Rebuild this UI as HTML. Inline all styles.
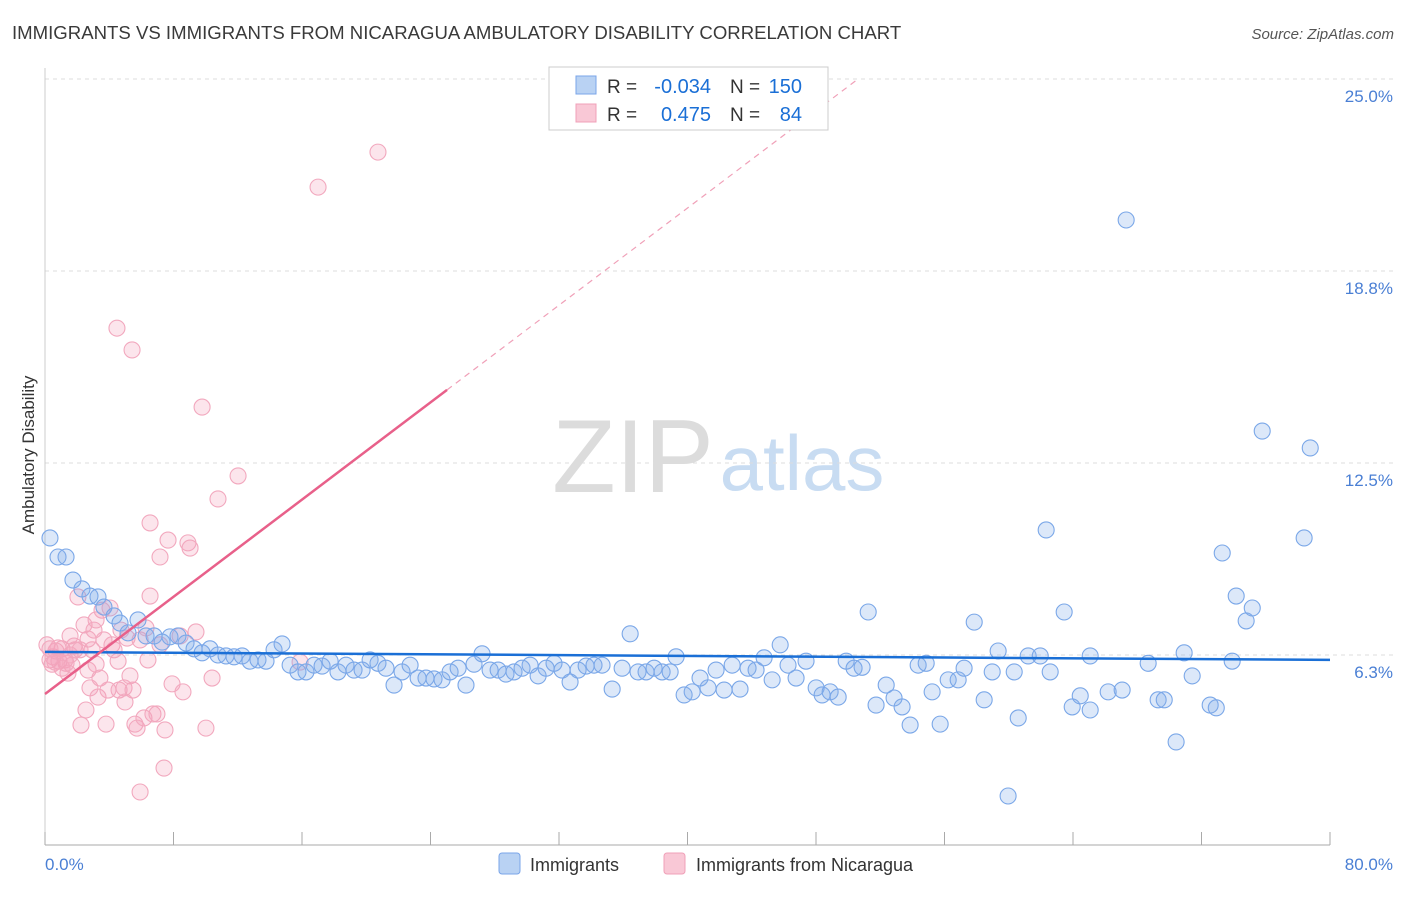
<!DOCTYPE html>
<html><head><meta charset="utf-8"><style>
body{margin:0;background:#fff;font-family:"Liberation Sans",sans-serif;}
svg text{font-family:"Liberation Sans",sans-serif;}
</style></head><body>
<svg width="1406" height="892" id="chart">
<text x="12" y="39" font-size="18.6" fill="#3a3a3a">IMMIGRANTS VS IMMIGRANTS FROM NICARAGUA AMBULATORY DISABILITY CORRELATION CHART</text>
<text x="1394" y="39" font-size="15" fill="#555" text-anchor="end" font-style="italic">Source: ZipAtlas.com</text>
<g>
<text x="633" y="492" font-size="104" fill="#dcdcdc" font-family="Liberation Serif" text-anchor="middle">ZIP</text>
<text x="802" y="490" font-size="78" fill="#c8dcf2" text-anchor="middle">atlas</text>
</g>
<g id="grid"></g><g id="axes"></g><g id="marks"></g>
<text transform="translate(34,455) rotate(-90)" font-size="17" fill="#333" text-anchor="middle">Ambulatory Disability</text>
<text x="45" y="870" font-size="17" fill="#4a7fd4">0.0%</text>
<text x="1393" y="870" font-size="17" fill="#4a7fd4" text-anchor="end">80.0%</text>
<g>
<rect x="549" y="67" width="279" height="63" fill="#fff" stroke="#ccc"/>
<rect x="576" y="76" width="20" height="18" fill="#b9d2f3" stroke="#7aa5e8"/>
<rect x="576" y="104" width="20" height="18" fill="#f9c8d6" stroke="#f0a0b8"/>
<text x="607" y="93" font-size="19" fill="#333">R =</text>
<text x="711" y="93" font-size="20" fill="#1a6fd6" text-anchor="end">-0.034</text>
<text x="730" y="93" font-size="19" fill="#333">N =</text>
<text x="802" y="93" font-size="20" fill="#1a6fd6" text-anchor="end">150</text>
<text x="607" y="121" font-size="19" fill="#333">R =</text>
<text x="711" y="121" font-size="20" fill="#1a6fd6" text-anchor="end">0.475</text>
<text x="730" y="121" font-size="19" fill="#333">N =</text>
<text x="802" y="121" font-size="20" fill="#1a6fd6" text-anchor="end">84</text>
</g>
<g>
<rect x="499" y="853" width="21" height="21" rx="3" fill="#b9d2f3" stroke="#7aa5e8"/>
<text x="530" y="871" font-size="18" fill="#333">Immigrants</text>
<rect x="664" y="853" width="21" height="21" rx="3" fill="#f9c8d6" stroke="#f0a0b8"/>
<text x="696" y="871" font-size="18" fill="#333">Immigrants from Nicaragua</text>
</g>
</svg>
<script>
const yTicks=[25.0,18.8,12.5,6.3];
const yTickVals=[25,18.75,12.5,6.25];
const xTicks=[0,8,16,24,32,40,48,56,64,72,80];
const blueX=[0.31,0.81,1.31,1.74,2.30,2.80,3.30,3.67,4.30,4.67,5.17,5.79,6.29,6.79,7.29,7.78,8.28,8.78,9.28,9.78,10.27,10.77,11.27,11.77,12.27,12.76,13.26,13.76,14.26,14.76,15.26,15.75,16.25,16.75,17.25,17.75,18.24,18.74,19.24,19.74,20.24,20.73,21.23,21.73,22.23,22.73,23.23,23.72,24.22,24.72,25.22,25.72,26.21,26.71,27.21,27.71,28.21,28.70,29.20,29.70,30.20,30.70,31.20,31.69,32.19,32.69,33.19,33.69,34.18,34.68,35.31,35.93,36.43,36.92,37.42,37.92,38.42,38.92,39.29,39.79,40.29,40.78,41.28,41.78,42.28,42.78,43.27,43.77,44.27,44.77,45.27,45.77,46.26,46.76,47.38,48.01,48.38,48.88,49.38,49.88,50.37,50.87,51.25,51.74,52.37,52.86,53.36,53.86,54.36,54.86,55.23,55.73,56.23,56.85,57.22,57.85,58.47,58.97,59.34,59.96,60.34,60.59,61.21,61.96,62.33,62.58,63.45,63.95,64.45,65.07,65.07,66.19,67.06,67.31,68.68,69.30,69.68,70.42,70.92,71.42,72.54,72.92,73.29,73.91,74.16,74.78,75.16,75.78,78.39,78.77];
const blueY=[10.06,9.44,9.44,8.69,8.40,8.17,8.14,7.81,7.52,7.29,6.97,7.39,6.87,6.87,6.67,6.84,6.87,6.64,6.45,6.32,6.45,6.25,6.22,6.19,6.22,6.05,6.09,6.05,6.42,6.61,5.92,5.70,5.70,5.92,5.89,6.05,5.70,5.92,5.76,5.76,6.09,5.98,5.82,5.27,5.70,5.92,5.50,5.50,5.47,5.44,5.70,5.82,5.27,5.95,6.29,5.76,5.76,5.63,5.70,5.82,5.92,5.57,5.82,5.98,5.76,5.37,5.76,5.89,5.92,5.92,5.14,5.82,6.94,5.70,5.70,5.82,5.70,5.70,6.19,4.95,5.05,5.50,5.18,5.76,5.11,5.92,5.14,5.82,5.76,6.16,5.44,6.58,5.92,5.50,6.05,5.18,4.95,5.05,4.88,6.05,5.82,5.85,7.65,4.62,5.27,4.85,4.56,3.97,5.92,5.98,5.05,4.00,5.44,5.44,5.82,7.32,4.79,5.70,6.38,1.66,5.70,4.20,6.22,6.22,10.32,5.70,7.65,4.56,4.92,6.22,4.46,5.05,5.11,20.41,5.98,4.79,4.79,3.42,6.32,5.57,4.62,4.53,9.57,6.05,8.17,7.36,7.78,13.54,10.06,12.99];
const pinkX=[0.12,0.31,0.50,0.68,0.87,1.06,1.25,1.43,1.56,1.68,1.87,2.05,2.24,2.43,2.55,2.68,2.80,2.93,3.05,3.18,3.30,3.42,3.55,3.67,3.80,3.92,4.17,4.30,4.48,4.61,4.73,4.92,5.11,5.29,5.42,5.48,5.60,5.73,5.92,6.16,6.29,6.41,6.54,6.54,6.72,6.97,7.16,7.41,7.47,7.66,7.91,8.41,8.59,8.90,9.03,9.40,9.78,10.02,10.40,10.77,12.02,17.00,20.73,5.92,0.81,1.31,1.81,0.44,2.68,3.18,4.55,1.56,4.05,4.98,7.16,1.06,0.31,0.62,2.18,15.88];
const pinkY=[6.58,6.09,6.19,6.38,6.05,6.45,6.09,5.66,6.87,5.92,6.42,8.14,3.97,7.23,4.46,5.76,5.18,6.42,7.06,5.95,4.88,5.50,7.71,6.74,4.00,5.11,6.58,6.42,16.89,5.11,7.06,5.18,6.80,5.57,16.18,5.11,4.00,3.87,6.74,4.20,7.13,6.09,8.17,10.55,4.33,4.33,9.44,2.57,3.81,9.99,5.31,6.87,5.05,9.90,9.73,7.00,14.32,3.87,5.50,11.33,12.08,21.48,22.62,1.79,6.48,5.98,6.54,5.95,6.77,7.39,6.05,6.25,7.78,4.72,6.58,5.82,6.45,6.02,6.42,6.02];
const blueTrend=[6.35,6.09];
const pinkTrend=[4.98,0.3955];

const NS='http://www.w3.org/2000/svg';
const X=v=>45+v/80*1285;
const Y=v=>79+(25-v)*30.72;
function mk(parent,tag,attrs){const e=document.createElementNS(NS,tag);for(const k in attrs)e.setAttribute(k,attrs[k]);document.getElementById(parent).appendChild(e);return e;}
yTickVals.forEach((v,i)=>{
 const l=mk('grid','line',{x1:45,x2:1393,y1:Y(v),y2:Y(v),stroke:'#ddd','stroke-dasharray':'4,4'});
 
 
 const t=mk('grid','text',{x:1393,y:Y(v)+23,'font-size':17,fill:'#4a7fd4','text-anchor':'end'});
 t.textContent=yTicks[i].toFixed(1)+'%';
 
 
});
const ax=mk('axes','line',{x1:45,x2:1330,y1:845,y2:845,stroke:'#aaa'});


const ay=mk('axes','line',{x1:45,x2:45,y1:68,y2:845,stroke:'#ccc'});


xTicks.forEach(v=>{
 const t=mk('axes','line',{x1:X(v),x2:X(v),y1:832,y2:845,stroke:'#aaa'});
 
 
});
pinkX.forEach((v,i)=>{
 const c=mk('marks','circle',{cx:X(v),cy:Y(pinkY[i]),r:8,fill:'rgba(244,160,188,0.28)',stroke:'#f2a8be','stroke-width':1.1});
 
 
});
blueX.forEach((v,i)=>{
 const c=mk('marks','circle',{cx:X(v),cy:Y(blueY[i]),r:8,fill:'rgba(130,172,234,0.28)',stroke:'#7aa7e8','stroke-width':1.1});
 
 
});
const bl=mk('marks','line',{x1:X(0),y1:Y(blueTrend[0]),x2:X(80),y2:Y(blueTrend[1]),stroke:'#1a6fd6','stroke-width':2.5});


const pEnd=25.03, pTop=(25-pinkTrend[0])/pinkTrend[1];
const pl=mk('marks','line',{x1:X(0),y1:Y(pinkTrend[0]),x2:X(pEnd),y2:Y(pinkTrend[0]+pinkTrend[1]*pEnd),stroke:'#e8608a','stroke-width':2.5});


const pd=mk('marks','line',{x1:X(pEnd),y1:Y(pinkTrend[0]+pinkTrend[1]*pEnd),x2:X(pTop),y2:Y(25),stroke:'#f0a0b8','stroke-width':1.2,'stroke-dasharray':'6,5'});


</script>
</body></html>
